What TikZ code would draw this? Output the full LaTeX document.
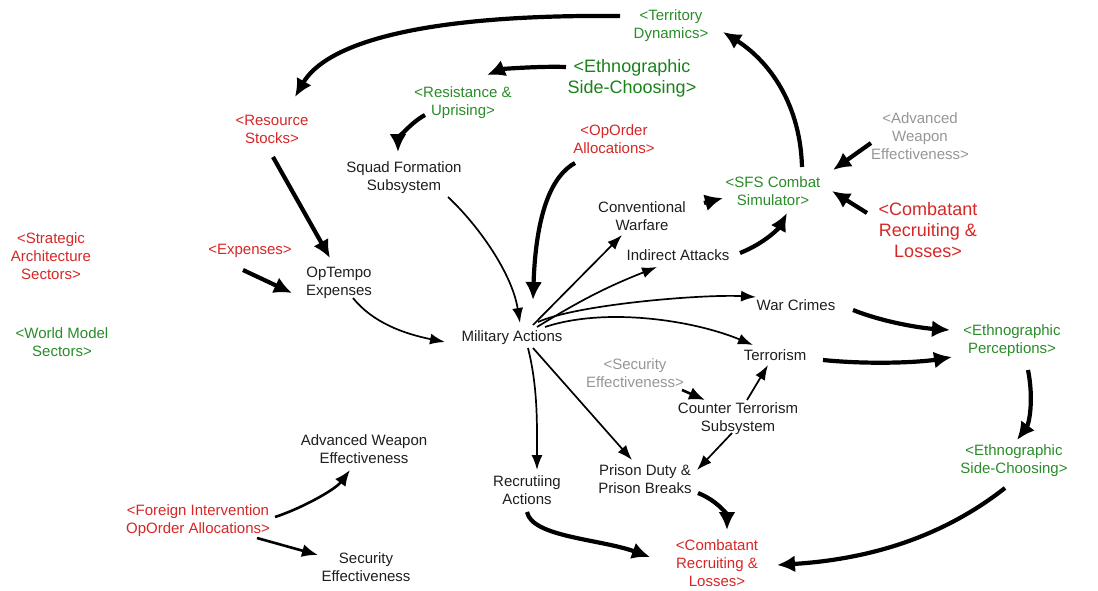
\documentclass[tikz,border=0pt]{standalone}
\usepackage{fontspec}
\setmainfont{Liberation Sans}
\usetikzlibrary{arrows.meta}
\definecolor{vred}{RGB}{214,38,38}
\definecolor{vgreen}{RGB}{40,140,40}
\definecolor{vdgreen}{RGB}{25,130,25}
\definecolor{vgray}{RGB}{150,150,150}
\definecolor{vtext}{RGB}{30,30,30}
\tikzset{
  var/.style={align=center,inner sep=0pt,text=vtext,font=\fontsize{15}{18}\selectfont},
  redvar/.style={var,text=vred},
  greenvar/.style={var,text=vgreen},
  grayvar/.style={var,text=vgray},
  bigvar/.style={align=center,inner sep=0pt,font=\fontsize{18}{21}\selectfont},
  thick link/.style={line width=4.2pt,-{Latex[length=18pt,width=17pt]}},
  mid link/.style={line width=2.6pt,-{Latex[length=16pt,width=13pt]}},
  thin link/.style={line width=1.7pt,-{Latex[length=15pt,width=11pt]}},
}
\begin{document}
\begin{tikzpicture}[x=1pt,y=-1pt]
\useasboundingbox (0,0) rectangle (1098,590);
% nodes
\node[greenvar] (terr) at (671,26) {<Territory\\Dynamics>};
\node[bigvar,text=vdgreen] (ethbig) at (632,78) {<Ethnographic\\Side-Choosing>};
\node[greenvar] (resist) at (463,103) {<Resistance \&\\Uprising>};
\node[redvar] (res) at (272,129) {<Resource\\Stocks>};
\node[redvar] (opord) at (614,139) {<OpOrder\\Allocations>};
\node[var] (squad) at (404,178) {Squad Formation\\Subsystem};
\node[grayvar] (advg) at (920,136) {<Advanced\\Weapon\\Effectiveness>};
\node[greenvar] (sfs) at (773,191) {<SFS Combat\\Simulator>};
\node[var] (conv) at (642,216) {Conventional\\Warfare};
\node[bigvar,text=vred] (combig) at (928,230) {<Combatant\\Recruiting \&\\Losses>};
\node[redvar] (strat) at (51,256) {<Strategic\\Architecture\\Sectors>};
\node[redvar] (exp) at (250,251) {<Expenses>};
\node[var] (ind) at (678,255) {Indirect Attacks};
\node[var] (opt) at (339,283) {OpTempo\\Expenses};
\node[var] (war) at (796,305) {War Crimes};
\node[greenvar] (world) at (62,342) {<World Model\\Sectors>};
\node[var] (ma) at (512,338) {Military Actions};
\node[greenvar] (perc) at (1012,341) {<Ethnographic\\Perceptions>};
\node[var] (terror) at (775,355) {Terrorism};
\node[grayvar] (secg) at (635,373) {<Security\\Effectiveness>};
\node[var] (ct) at (738,419) {Counter Terrorism\\Subsystem};
\node[var] (advb) at (364,449) {Advanced Weapon\\Effectiveness};
\node[greenvar] (ethsm) at (1014,461) {<Ethnographic\\Side-Choosing>};
\node[var] (recr) at (527,490) {Recrutiing\\Actions};
\node[var] (prison) at (645,479) {Prison Duty \&\\Prison Breaks};
\node[redvar] (foreign) at (198,521) {<Foreign Intervention\\OpOrder Allocations>};
\node[redvar] (comsm) at (717,563) {<Combatant\\Recruiting \&\\Losses>};
\node[var] (secb) at (366,567) {Security\\Effectiveness};
% connectors
\draw[thick link] ([shift={(-51,-10)}]terr.center) .. controls +(-205,-2) and +(30,-52) .. ([shift={(23,-32)}]res.center);
\draw[thick link] ([shift={(-66,-11)}]ethbig.center) .. controls +(-25,-1) and +(15,-6) .. ([shift={(24,-28)}]resist.center);
\draw[thick link] ([shift={(-38,12)}]resist.center) .. controls +(-15,8) and +(0,-12) .. ([shift={(-6,-26)}]squad.center);
\draw[thick link] ([shift={(1,28)}]res.center) -- ([shift={(-9,-25)}]opt.center);
\draw[thick link] ([shift={(-7,19)}]exp.center) -- ([shift={(-47,10)}]opt.center);
\draw[thin link] ([shift={(14,15)}]opt.center) .. controls +(20,25) and +(-40,-8) .. ([shift={(-67,4)}]ma.center);
\draw[thin link] ([shift={(44,19)}]squad.center) .. controls +(30,28) and +(-8,-50) .. ([shift={(8,-15)}]ma.center);
\draw[thick link] ([shift={(-39,24)}]opord.center) .. controls +(-22,12) and +(3,-90) .. ([shift={(21,-38)}]ma.center);
\draw[thin link] ([shift={(21,-13)}]ma.center) -- ([shift={(-20,19)}]conv.center);
\draw[thin link] ([shift={(25,-11)}]ma.center) to[bend left=5] ([shift={(-21,12)}]ind.center);
\draw[thin link] ([shift={(26,-16)}]ma.center) .. controls +(40,-18) and +(-50,-3) .. ([shift={(-40,-8)}]war.center);
\draw[thin link] ([shift={(33,-11)}]ma.center) .. controls +(60,-20) and +(-60,-25) .. ([shift={(-22,-10)}]terror.center);
\draw[thin link] ([shift={(16,10)}]ma.center) .. controls +(10,40) and +(0,-45) .. ([shift={(10,-20)}]recr.center);
\draw[thin link] ([shift={(21,10)}]ma.center) -- ([shift={(-13,-19)}]prison.center);
\draw[thick link] ([shift={(62,-13)}]conv.center) -- ([shift={(-50,7)}]sfs.center);
\draw[thick link] ([shift={(62,-2)}]ind.center) .. controls +(25,-10) and +(-8,15) .. ([shift={(14,22)}]sfs.center);
\draw[thick link] ([shift={(29,-24)}]sfs.center) .. controls +(-2,-70) and +(40,25) .. ([shift={(52,6)}]terr.center);
\draw[thick link] ([shift={(-49,7)}]advg.center) -- ([shift={(60,-21)}]sfs.center);
\draw[thick link] ([shift={(-61,-17)}]combig.center) -- ([shift={(59,0)}]sfs.center);
\draw[thick link] ([shift={(57,5)}]war.center) .. controls +(30,12) and +(-30,-2) .. ([shift={(-62,-11)}]perc.center);
\draw[thick link] ([shift={(48,5)}]terror.center) .. controls +(50,5) and +(-30,5) .. ([shift={(-60,16)}]perc.center);
\draw[thick link] ([shift={(16,29)}]perc.center) .. controls +(6,30) and +(12,-16) .. ([shift={(3,-21)}]ethsm.center);
\draw[thick link] ([shift={(-9,27)}]ethsm.center) .. controls +(-70,55) and +(80,-5) .. ([shift={(60,2)}]comsm.center);
\draw[thick link] ([shift={(0,22)}]recr.center) .. controls +(5,25) and +(-50,-18) .. ([shift={(-67,-6)}]comsm.center);
\draw[thick link] ([shift={(53,14)}]prison.center) .. controls +(20,8) and +(0,-15) .. ([shift={(10,-33)}]comsm.center);
\draw[mid link] ([shift={(47,17)}]secg.center) -- ([shift={(-33,-19)}]ct.center);
\draw[thin link] ([shift={(9,-19)}]ct.center) -- ([shift={(-7,10)}]terror.center);
\draw[thin link] ([shift={(-6,14)}]ct.center) -- ([shift={(52,-9)}]prison.center);
\draw[mid link] ([shift={(77,-4)}]foreign.center) .. controls +(25,-8) and +(-15,20) .. ([shift={(-14,21)}]advb.center);
\draw[mid link] ([shift={(59,17)}]foreign.center) -- ([shift={(-48,-12)}]secb.center);
\end{tikzpicture}
\end{document}
